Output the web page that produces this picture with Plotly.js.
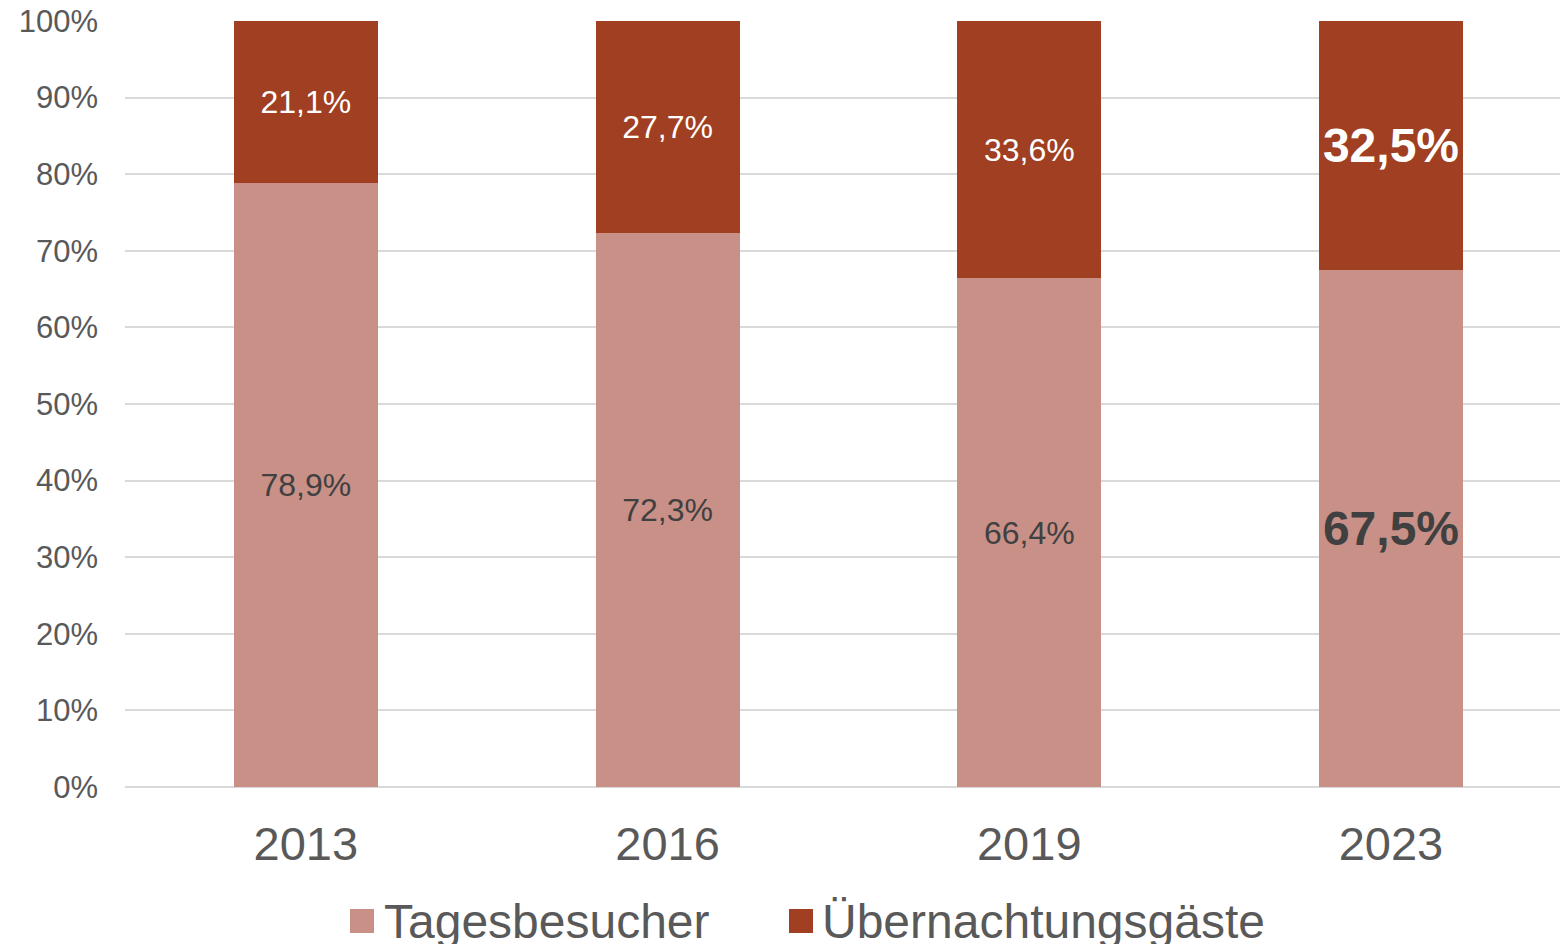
<!DOCTYPE html>
<html>
<head>
<meta charset="utf-8">
<script src="https://cdn.plot.ly/plotly-3.0.1.min.js"></script>
<style>html,body{margin:0;padding:0;background:#fff;}#chart{width:1560px;height:944px;}</style>
</head>
<body>
<div id="chart"></div>
<script>
const years = ['2013', '2016', '2019', '2023'];
const seriesNames = ['Tagesbesucher', 'Übernachtungsgäste'];
const tagesbesucher = [78.9, 72.3, 66.4, 67.5];
const uebernachtung = [21.1, 27.7, 33.6, 32.5];
const yTickVals = [0, 10, 20, 30, 40, 50, 60, 70, 80, 90, 100];
const highlight = [false, false, false, true];

const colors = ['#C99088', '#A03F21'];
const labelColors = ['#404040', '#FFFFFF'];
const FONT = '"Liberation Sans", Arial, sans-serif';

function fmt(v, i) {
  const s = v.toFixed(1).replace('.', ',') + '%';
  return highlight[i] ? '<b>' + s + '</b>' : s;
}

function makeTrace(name, vals, idx) {
  return {
    type: 'bar',
    name: name,
    x: years,
    y: vals,
    marker: { color: colors[idx], line: { width: 0 } },
    text: vals.map(fmt),
    textposition: 'inside',
    insidetextanchor: 'middle',
    textangle: 0,
    constraintext: 'none',
    textfont: {
      family: FONT,
      color: labelColors[idx],
      size: highlight.map(h => h ? 48 : 32)
    },
    hoverinfo: 'skip',
    showlegend: false
  };
}

const data = [
  makeTrace(seriesNames[0], tagesbesucher, 0),
  makeTrace(seriesNames[1], uebernachtung, 1)
];

// custom legend (large squares like the reference)
const W = 1560, H = 944, L = 125, R = 0, T = 21, B = 157;
const pw = W - L - R, ph = H - T - B;
const px = x => (x - L) / pw;
const py = y => (H - B - y) / ph;
const legendItems = [
  { sq: [350, 374], tx: 382 },
  { sq: [789, 813], tx: 820 }
];
const shapes = legendItems.map((it, i) => ({
  type: 'rect', xref: 'paper', yref: 'paper',
  x0: px(it.sq[0]), x1: px(it.sq[1]), y0: py(933), y1: py(909),
  fillcolor: colors[i], line: { width: 0 }
}));
const annotations = legendItems.map((it, i) => ({
  xref: 'paper', yref: 'paper', x: px(it.tx), y: py(921),
  xanchor: 'left', yanchor: 'middle', showarrow: false,
  text: seriesNames[i],
  font: { family: FONT, size: 48, color: '#595959' }
}));

const catSpacing = 361.7;
const layout = {
  width: W, height: H,
  margin: { l: L, r: R, t: T, b: B, pad: 0 },
  paper_bgcolor: '#ffffff',
  plot_bgcolor: '#ffffff',
  barmode: 'stack',
  bargap: 0.602,
  showlegend: false,
  font: { family: FONT, color: '#595959' },
  xaxis: {
    type: 'category',
    range: [-0.5, -0.5 + pw / catSpacing],
    showgrid: false, zeroline: false, showline: false,
    ticks: '',
    tickfont: { family: FONT, size: 47, color: '#595959' },
    ticklabelstandoff: 25
  },
  yaxis: {
    range: [0, 100],
    tickvals: yTickVals,
    ticktext: yTickVals.map(v => v + '%'),
    showgrid: true, gridcolor: '#D9D9D9', gridwidth: 2,
    zeroline: true, zerolinecolor: '#D9D9D9', zerolinewidth: 2,
    showline: false, ticks: '',
    tickfont: { family: FONT, size: 31, color: '#595959' },
    ticklabelstandoff: 26
  },
  shapes: shapes,
  annotations: annotations
};

Plotly.newPlot('chart', data, layout, { staticPlot: true, displayModeBar: false });
</script>
</body>
</html>
